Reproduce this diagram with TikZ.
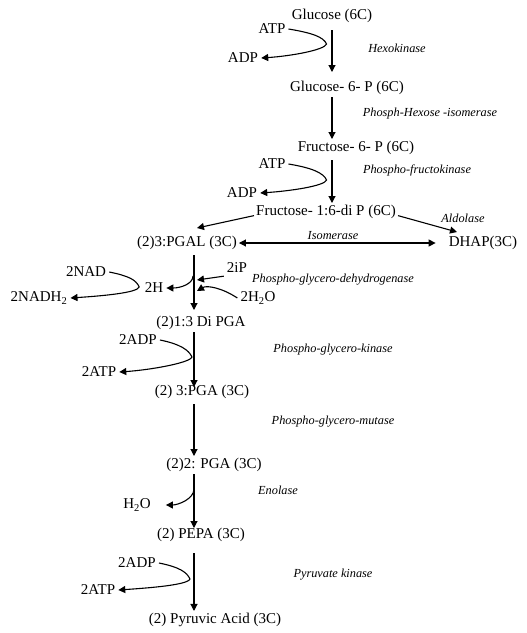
\documentclass[tikz,border=0pt]{standalone}
\usepackage{fontspec}
\setmainfont{Liberation Serif}
\usepackage{tikz}
\usetikzlibrary{arrows.meta}

\begin{document}
\begin{tikzpicture}[x=1pt,y=-1pt]
        % Define the styles
        \tikzstyle{metab}=[inner sep=2pt, font=\fontsize{15}{18}\selectfont]
        \tikzstyle{cofac}=[inner sep=3pt, font=\fontsize{15}{18}\selectfont]
        \tikzstyle{enzyme}=[inner sep=1pt, font=\itshape\fontsize{12.3}{14}\selectfont]
        \tikzstyle{rxn}=[-{Triangle[length=7pt,width=7pt]}, line width=1.1pt]
        \tikzstyle{rxnboth}=[{Triangle[length=7pt,width=7pt]}-{Triangle[length=7pt,width=7pt]}, line width=1.1pt]

        \useasboundingbox (0,0) rectangle (527,633);

        % Define the main line of the pathway
        \node[metab] (glc) at (332,16) {Glucose (6C)};
        \node[metab] (g6p) at (347,88) {Glucose- 6- P (6C)};
        \node[metab] (f6p) at (356,148) {Fructose- 6- P (6C)};
        \node[metab] (fbp) at (326,212) {Fructose- 1:6-di P (6C)};
        \node[metab] (pgal) at (187,243) {(2)3:PGAL (3C)};
        \node[metab] (dhap) at (483,243) {DHAP(3C)};
        \node[metab] (dpga) at (201,323) {(2)1:3 Di PGA};
        \node[metab] (pga3) at (202,392) {(2) 3:PGA (3C)};
        \node[metab] (pga2) at (214,465) {(2)2: PGA (3C)};
        \node[metab] (pepa) at (201,535) {(2) PEPA (3C)};
        \node[metab] (pyr) at (215,620) {(2) Pyruvic Acid (3C)};

        % Define the side products
        \node[cofac] (atp1) at (272,29) {ATP};
        \node[cofac] (adp1) at (243,58) {ADP};
        \node[cofac] (atp2) at (272,164) {ATP};
        \node[cofac] (adp2) at (242,193) {ADP};
        \node[cofac] (nad) at (86,272) {2NAD};
        \node[cofac] (nadh) at (39,298) {2NADH\textsubscript{2}};
        \node[cofac] (h2) at (154,288) {2H};
        \node[cofac] (ip) at (237,268) {2iP};
        \node[cofac] (water1) at (258,298) {2H\textsubscript{2}O};
        \node[cofac] (adp3) at (138,340) {2ADP};
        \node[cofac] (atp3) at (99,372) {2ATP};
        \node[cofac] (water2) at (137,505) {H\textsubscript{2}O};
        \node[cofac] (adp4) at (137,563) {2ADP};
        \node[cofac] (atp4) at (98,590) {2ATP};

        % Define the enzymes
        \node[enzyme] (hexo) at (397,48) {Hexokinase};
        \node[enzyme] (phi) at (430,114) {Phosph-Hexose -isomerase};
        \node[enzyme] (pfk) at (417,170) {Phospho-fructokinase};
        \node[enzyme] (aldo) at (463,218) {Aldolase};
        \node[enzyme] (iso) at (333,236) {Isomerase};
        \node[enzyme] (gapdh) at (333,280) {Phospho-glycero-dehydrogenase};
        \node[enzyme] (pgk) at (333,350) {Phospho-glycero-kinase};
        \node[enzyme] (pgm) at (333,422) {Phospho-glycero-mutase};
        \node[enzyme] (eno) at (278,490) {Enolase};
        \node[enzyme] (pk) at (333,575) {Pyruvate kinase};

        % Define the axes and free ends
        \coordinate (ax1) at (332,0);
        \coordinate (ax2) at (194,0);
        \coordinate (hsplit) at (193,276);
        \coordinate (ipin) at (197,280);
        \coordinate (waterin) at (197,291);
        \coordinate (enosplit) at (194,489);

        % Define the arrows for the six carbon steps
        \draw[rxn, shorten <=5pt, shorten >=7pt] (glc.south -| ax1) -- (g6p.north -| ax1);
        \draw[rxn] (g6p.south -| ax1) -- (f6p.north -| ax1);
        \draw[rxn, shorten <=3pt] (f6p.south -| ax1) -- (fbp.north -| ax1);
        \draw[rxn] (atp1.east) .. controls +(24,4) and +(-3,-7) .. ++(38,15)
            .. controls +(-2,6) and +(30,-2) .. (adp1.east);
        \draw[rxn] (atp2.east) .. controls +(24,4) and +(-3,-7) .. ++(38,16)
            .. controls +(-2,6) and +(30,-2) .. (adp2.east);

        % Define the split by aldolase
        \draw[rxn] (fbp.base west) -- ([xshift=10pt,yshift=6pt]pgal.north);
        \draw[rxn] (fbp.base east) -- ([xshift=-26pt,yshift=2pt]dhap.north);
        \draw[rxnboth, shorten >=11pt] (pgal.east) -- (dhap.west);

        % Define the arrows for the three carbon steps
        \draw[rxn, shorten <=3pt, shorten >=4pt] (pgal.south -| ax2) -- (dpga.north -| ax2);
        \draw[rxn, shorten >=-4pt] (dpga.south -| ax2) -- (pga3.north -| ax2);
        \draw[rxn, shorten <=3pt] (pga3.south -| ax2) -- (pga2.north -| ax2);
        \draw[rxn, shorten >=-2pt] (pga2.south -| ax2) -- (pepa.north -| ax2);
        \draw[rxn, shorten <=9pt] (pepa.south -| ax2) -- (pyr.north -| ax2);

        % Define the side arrows
        \draw[rxn] (nad.east) .. controls +(20,4) and +(-3,-7) .. ++(30,15)
            .. controls +(-2,6) and +(30,-2) .. (nadh.east);
        \draw[rxn] (hsplit) .. controls +(0,8) and +(14,0) .. (h2.east);
        \draw[rxn] (ip.south west) -- (ipin);
        \draw[rxn] (water1.west) .. controls +(-15,-10) and +(10,-6) .. (waterin);
        \draw[rxn] (adp3.east) .. controls +(20,4) and +(-3,-7) .. ++(32,17)
            .. controls +(-2,6) and +(30,-2) .. (atp3.east);
        \draw[rxn, shorten >=12pt] (enosplit) .. controls +(0,10) and +(24,0) .. (water2.east);
        \draw[rxn] (adp4.east) .. controls +(20,4) and +(-3,-7) .. ++(31,16)
            .. controls +(-2,6) and +(30,-2) .. (atp4.east);
    \end{tikzpicture}
\end{document}
